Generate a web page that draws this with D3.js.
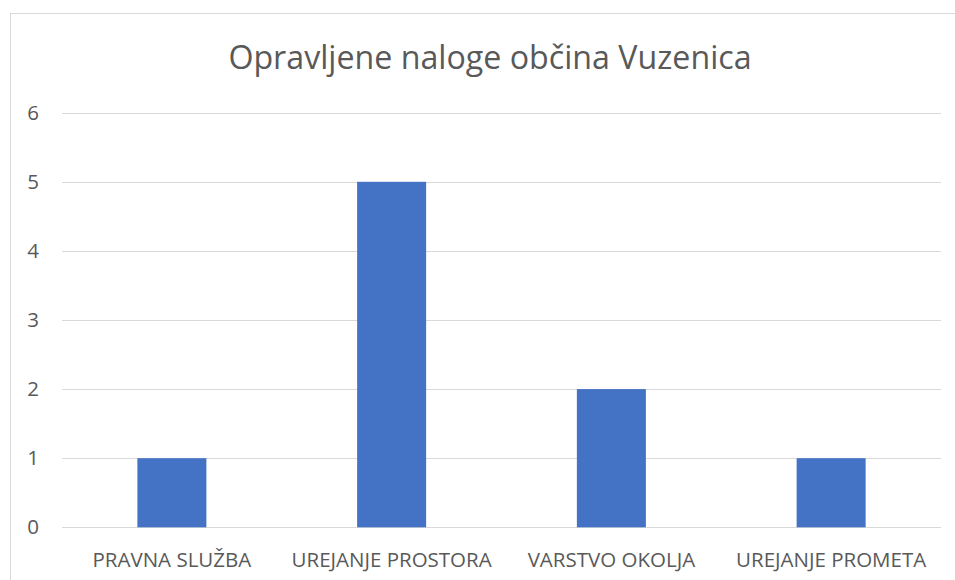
<!DOCTYPE html>
<html>
<head>
<meta charset="utf-8">
<script src="https://cdn.jsdelivr.net/npm/d3@7"></script>
<style>
  body { margin: 0; background: #fff; }
  text { font-family: "Open Sans", sans-serif; fill: #595959; }
</style>
</head>
<body>
<div id="chart"></div>
<script>
// data
const categories = ["PRAVNA SLUŽBA", "UREJANJE PROSTORA", "VARSTVO OKOLJA", "UREJANJE PROMETA"];
const values = [1, 5, 2, 1];
const yTicks = [0, 1, 2, 3, 4, 5, 6];
const title = "Opravljene naloge občina Vuzenica";

const width = 955, height = 580;
const svg = d3.select('#chart').append('svg')
  .attr('width', width)
  .attr('height', height);

// chart area border (runs off the right and bottom edge)
svg.append('rect')
  .attr('x', 10.5).attr('y', 13.5)
  .attr('width', 960).attr('height', 600)
  .attr('fill', 'none')
  .attr('stroke', '#d9d9d9');

const plot = { left: 62, right: 941, top: 112.7, bottom: 527.3 };

const x = d3.scaleBand()
  .domain(categories)
  .range([plot.left, plot.right])
  .paddingInner(0.686)
  .paddingOuter(0.343);

const y = d3.scaleLinear()
  .domain([0, 6])
  .range([plot.bottom, plot.top]);

// gridlines
svg.append('g')
  .selectAll('line')
  .data(yTicks)
  .enter()
  .append('line')
  .attr('x1', plot.left)
  .attr('x2', plot.right)
  .attr('y1', d => Math.round(y(d)) + 0.5)
  .attr('y2', d => Math.round(y(d)) + 0.5)
  .attr('stroke', '#d9d9d9')
  .attr('stroke-width', 1);

// y labels
svg.append('g')
  .selectAll('text')
  .data(yTicks)
  .enter()
  .append('text')
  .attr('x', 39)
  .attr('y', d => y(d))
  .attr('dy', '0.35em')
  .attr('text-anchor', 'end')
  .style('font-size', '20.5px')
  .text(d => d);

// bars
svg.append('g')
  .selectAll('rect')
  .data(values)
  .enter()
  .append('rect')
  .attr('x', (d, i) => x(categories[i]))
  .attr('y', d => y(d))
  .attr('width', x.bandwidth())
  .attr('height', d => y(0) - y(d))
  .attr('fill', '#4472c4');

// category labels
svg.append('g')
  .selectAll('text')
  .data(categories)
  .enter()
  .append('text')
  .attr('x', d => x(d) + x.bandwidth() / 2)
  .attr('y', 567)
  .attr('text-anchor', 'middle')
  .style('font-size', '20.5px')
  .text(d => d);

// title
svg.append('text')
  .attr('x', 490)
  .attr('y', 69)
  .attr('text-anchor', 'middle')
  .style('font-size', '32.2px')
  .text(title);
</script>
</body>
</html>
